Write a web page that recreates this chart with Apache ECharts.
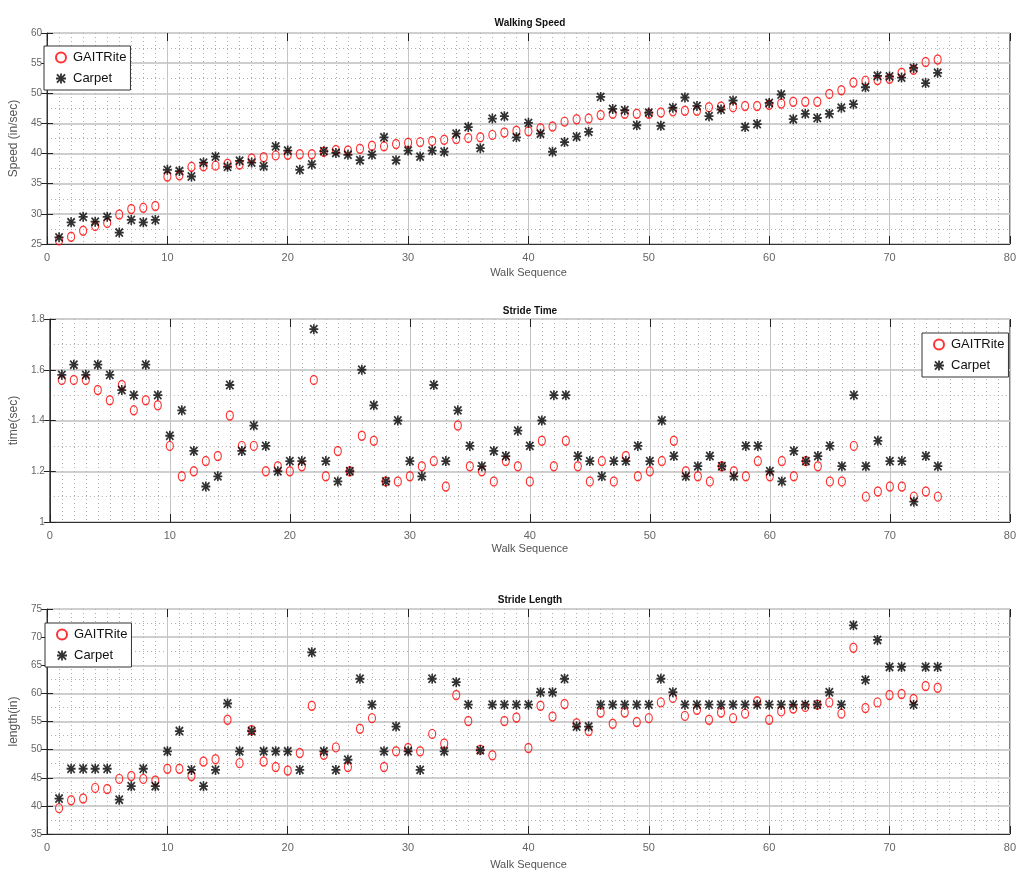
<!DOCTYPE html>
<html>
<head>
<meta charset="utf-8">
<script src="https://cdn.jsdelivr.net/npm/echarts@6/dist/echarts.min.js"></script>
<style>html,body{margin:0;padding:0;background:#fff;}#c{width:1019px;height:872px;}</style>
</head>
<body>
<div id="c"></div>
<script>
// ---- data ----
const walkSequence = [1,2,3,4,5,6,7,8,9,10,11,12,13,14,15,16,17,18,19,20,21,22,23,24,25,26,27,28,29,30,31,32,33,34,35,36,37,38,39,40,41,42,43,44,45,46,47,48,49,50,51,52,53,54,55,56,57,58,59,60,61,62,63,64,65,66,67,68,69,70,71,72,73,74];
const seriesNames = ['GAITRite', 'Carpet'];
const panelTitles = ['Walking Speed', 'Stride Time', 'Stride Length'];
const yAxisNames = ['Speed (in/sec)', 'time(sec)', 'length(in)'];
const xAxisName = 'Walk Sequence';

const speedGait = [25.6,26.2,27.2,28.0,28.5,29.9,30.8,31.0,31.3,36.2,36.4,37.8,37.9,38.0,38.3,38.2,39.2,39.4,39.7,39.8,39.9,39.9,40.3,40.6,
  40.5,40.8,41.3,41.2,41.6,41.8,41.9,42.1,42.3,42.4,42.6,42.7,43.1,43.5,43.8,43.7,44.2,44.5,45.3,45.7,45.8,46.4,46.6,46.6,46.6,46.6,46.8,
  47.0,47.1,47.1,47.7,47.8,47.7,47.9,47.9,48.1,48.3,48.6,48.6,48.6,49.9,50.5,51.8,52.1,52.2,52.4,53.4,53.9,55.2,55.6];
const speedCarpet = [26.1,28.6,29.5,28.7,29.5,26.9,29.0,28.6,29.0,37.3,37.1,36.2,38.5,39.5,37.8,38.8,38.5,37.9,41.2,40.5,37.3,38.2,40.4,40.1,
  39.8,38.9,39.8,42.7,38.9,40.5,39.5,40.5,40.3,43.3,44.4,40.9,45.8,46.2,42.7,45.1,43.3,40.3,41.9,42.8,43.6,49.4,47.4,47.2,44.7,46.8,44.6,
  47.6,49.3,47.9,46.2,47.3,48.8,44.4,44.9,48.4,49.8,45.7,46.6,45.9,46.6,47.6,48.2,51.0,52.9,52.8,52.6,54.2,51.7,53.4];

const timeGait = [1.56,1.56,1.56,1.52,1.48,1.54,1.44,1.48,1.46,1.30,1.18,1.20,1.24,1.26,1.42,1.30,1.30,1.20,1.22,1.20,1.22,1.56,1.18,1.28,
  1.20,1.34,1.32,1.16,1.16,1.18,1.22,1.24,1.14,1.38,1.22,1.20,1.16,1.24,1.22,1.16,1.32,1.22,1.32,1.22,1.16,1.24,1.16,1.26,1.18,1.20,1.24,
  1.32,1.20,1.18,1.16,1.22,1.20,1.18,1.24,1.18,1.24,1.18,1.24,1.22,1.16,1.16,1.30,1.10,1.12,1.14,1.14,1.10,1.12,1.10];
const timeCarpet = [1.58,1.62,1.58,1.62,1.58,1.52,1.50,1.62,1.50,1.34,1.44,1.28,1.14,1.18,1.54,1.28,1.38,1.30,1.20,1.24,1.24,1.76,1.24,1.16,
  1.20,1.60,1.46,1.16,1.40,1.24,1.18,1.54,1.24,1.44,1.30,1.22,1.28,1.26,1.36,1.30,1.40,1.50,1.50,1.26,1.24,1.18,1.24,1.24,1.30,1.24,1.40,
  1.26,1.18,1.22,1.26,1.22,1.18,1.30,1.30,1.20,1.16,1.28,1.24,1.26,1.30,1.22,1.50,1.22,1.32,1.24,1.24,1.08,1.26,1.22];

const lengthGait = [39.6,41.0,41.3,43.2,43.0,44.8,45.3,44.8,44.5,46.6,46.6,45.3,47.9,48.3,55.3,47.6,53.5,47.9,46.9,46.3,49.4,57.8,49.1,50.4,
  46.9,53.7,55.6,46.9,49.7,50.3,49.7,52.8,51.1,59.7,55.1,50.0,49.0,55.1,55.7,50.3,57.8,55.9,58.1,54.7,53.3,56.6,54.6,56.6,54.9,55.6,58.4,
  59.2,56.0,57.1,55.3,56.6,55.6,56.4,58.6,55.3,56.8,57.3,57.6,58.0,58.4,56.4,68.1,57.4,58.4,59.7,59.9,59.0,61.3,61.0];
const lengthCarpet = [41.3,46.6,46.6,46.6,46.6,41.1,43.5,46.6,43.5,49.7,53.3,46.4,43.5,46.4,58.2,49.7,53.3,49.7,49.7,49.7,46.4,67.3,49.7,46.4,
  48.2,62.6,58.0,49.7,54.1,49.7,46.4,62.6,49.7,62.0,58.0,49.9,58.0,58.0,58.0,58.0,60.2,60.2,62.6,54.1,54.1,58.0,58.0,58.0,58.0,58.0,62.6,
  60.2,58.0,58.0,58.0,58.0,58.0,58.0,58.0,58.0,58.0,58.0,58.0,58.0,60.2,58.0,72.1,62.4,69.5,64.7,64.7,58.0,64.7,64.7];

const xRange = [0, 80, 10];
const yRanges = [[25, 60, 5], [1, 1.8, 0.2], [35, 75, 5]];

// ---- layout / style ----
const SANS = "'Liberation Sans',Arial,sans-serif";
const layout = [
  {top: 33, height: 211, titleTop: 13, xNameGap: 23, legend: {left: 44, top: 46}},
  {top: 319, height: 203, titleTop: 301, xNameGap: 21, legend: {left: 922, top: 333}},
  {top: 609, height: 225, titleTop: 590, xNameGap: 25, legend: {left: 45, top: 623}}
];
const gridLeft = 36, gridWidth = 978;
const STAR = 'path://M4.1,0h1.8v10h-1.8z M0,4.1h10v1.8h-10z M1.6,0.3L9.7,8.4L8.4,9.7L0.3,1.6z M8.4,0.3L9.7,1.6L1.6,9.7L0.3,8.4z';
const valuesByPanel = [[speedGait, speedCarpet], [timeGait, timeCarpet], [lengthGait, lengthCarpet]];

const option = {
  backgroundColor: '#fff',
  animation: false,
  title: [], legend: [], grid: [], xAxis: [], yAxis: [], series: []
};

layout.forEach((L, g) => {
  option.title.push({
    text: panelTitles[g], left: gridLeft + gridWidth / 2, top: L.titleTop, textAlign: 'center',
    textStyle: {fontFamily: SANS, fontSize: 10, fontWeight: 'bold', color: '#111'}
  });
  option.grid.push({
    left: gridLeft, width: gridWidth, top: L.top, height: L.height,
    show: true, borderColor: '#333', borderWidth: 1, backgroundColor: '#fff'
  });
  const minorLine = {show: true, lineStyle: {color: '#b0b0b0', type: [1, 3], width: 1}};
  option.xAxis.push({
    type: 'value', gridIndex: g, min: xRange[0], max: xRange[1], interval: xRange[2],
    name: xAxisName, nameLocation: 'middle', nameGap: L.xNameGap,
    nameTextStyle: {fontFamily: SANS, fontSize: 11, color: '#555'},
    axisLine: {show: true, lineStyle: {color: '#333'}},
    axisTick: {show: true, inside: true, length: 8, lineStyle: {color: '#222'}},
    axisLabel: {fontFamily: SANS, fontSize: 11, color: '#666', margin: 8},
    splitLine: {show: true, lineStyle: {color: '#c4c4c4', width: 1}},
    minorTick: {show: false, splitNumber: 10},
    minorSplitLine: minorLine
  });
  option.xAxis.push({
    type: 'value', gridIndex: g, position: 'top', min: xRange[0], max: xRange[1], interval: xRange[2],
    axisLine: {show: false}, axisLabel: {show: false}, splitLine: {show: false},
    axisTick: {show: true, inside: true, length: 8, lineStyle: {color: '#222'}}
  });
  const yr = yRanges[g];
  option.yAxis.push({
    type: 'value', gridIndex: g, min: yr[0], max: yr[1], interval: yr[2],
    name: yAxisNames[g], nameLocation: 'middle', nameGap: 20,
    nameTextStyle: {fontFamily: SANS, fontSize: 12, color: '#555'},
    axisLine: {show: true, lineStyle: {color: '#333'}},
    axisTick: {show: true, inside: true, length: 6, lineStyle: {color: '#222'}},
    axisLabel: {fontFamily: SANS, fontSize: 10, color: '#666', margin: 5},
    splitLine: {show: true, lineStyle: {color: '#cfcfcf', width: 2}},
    minorTick: {show: false, splitNumber: 2},
    minorSplitLine: minorLine
  });
  option.yAxis.push({
    type: 'value', gridIndex: g, position: 'right', min: yr[0], max: yr[1], interval: yr[2],
    axisLine: {show: false}, axisLabel: {show: false}, splitLine: {show: false},
    axisTick: {show: true, inside: true, length: 6, lineStyle: {color: '#222'}}
  });
  option.legend.push({
    left: L.legend.left, top: L.legend.top, orient: 'vertical',
    data: seriesNames, backgroundColor: '#fff', borderColor: '#333', borderWidth: 1,
    padding: [5, 4, 5, 11], itemGap: 8, itemWidth: 14, itemHeight: 10,
    textStyle: {fontFamily: SANS, fontSize: 13, color: '#111'}
  });
  const [gait, carpet] = valuesByPanel[g];
  option.series.push({
    type: 'scatter', name: seriesNames[0], xAxisIndex: 2 * g, yAxisIndex: 2 * g,
    data: walkSequence.map((x, i) => [x, gait[i]]),
    symbol: 'circle', symbolSize: [7, 9],
    itemStyle: {color: 'rgba(255,255,255,0)', borderColor: '#ff0000', borderWidth: 1.3},
    z: 3
  });
  option.series.push({
    type: 'scatter', name: seriesNames[1], xAxisIndex: 2 * g, yAxisIndex: 2 * g,
    data: walkSequence.map((x, i) => [x, carpet[i]]),
    symbol: STAR, symbolSize: [9, 10],
    itemStyle: {color: '#000'},
    z: 4
  });
});

const chart = echarts.init(document.getElementById('c'), null, {renderer: 'canvas'});
chart.setOption(option);
</script>
</body>
</html>
